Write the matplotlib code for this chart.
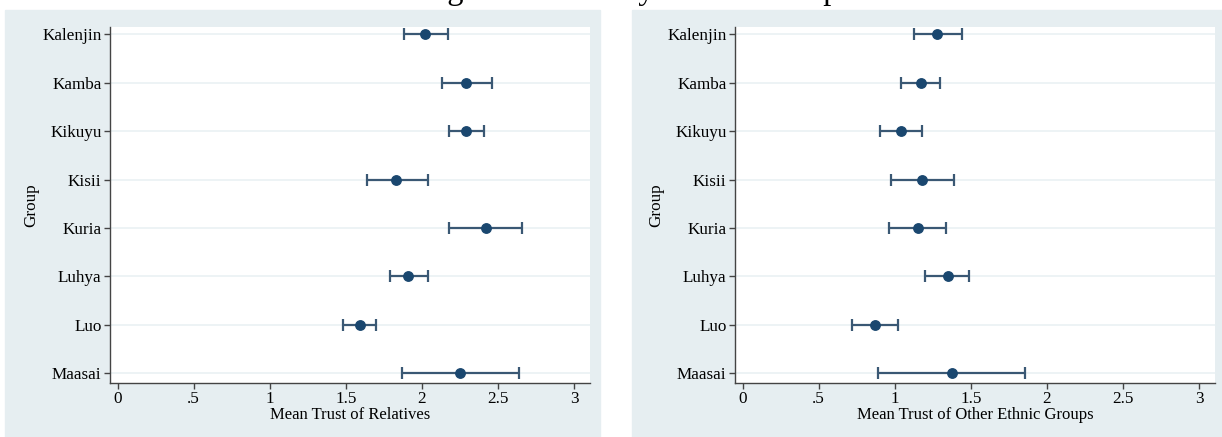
import numpy as np
import matplotlib.pyplot as plt
from matplotlib.patches import Rectangle

groups = ['Kalenjin', 'Kamba', 'Kikuyu', 'Kisii', 'Kuria', 'Luhya', 'Luo', 'Maasai']

# mean trust of relatives, with lower / upper bounds of the CI
rel_mean = [2.02, 2.29, 2.29, 1.83, 2.42, 1.91, 1.59, 2.25]
rel_lo = [1.88, 2.13, 2.18, 1.64, 2.18, 1.79, 1.48, 1.87]
rel_hi = [2.17, 2.46, 2.41, 2.04, 2.66, 2.04, 1.70, 2.64]

# mean trust of other ethnic groups
oth_mean = [1.28, 1.17, 1.04, 1.18, 1.15, 1.35, 0.87, 1.375]
oth_lo = [1.125, 1.04, 0.90, 0.975, 0.96, 1.20, 0.72, 0.89]
oth_hi = [1.44, 1.30, 1.18, 1.39, 1.34, 1.49, 1.02, 1.855]

xticks = [0, 0.5, 1, 1.5, 2, 2.5, 3]
xticklabels = ['0', '.5', '1', '1.5', '2', '2.5', '3']

plt.rcParams['font.family'] = ['Liberation Serif', 'DejaVu Serif']

W, H = 1222, 437
fig = plt.figure(figsize=(W / 100, H / 100), dpi=100)

bg = '#e6eef1'
navy = '#1a476f'
barcol = '#3a5874'

# grey-blue panels behind each graph
fig.patches.append(Rectangle((5 / W, 0), 595 / W, 427 / H, transform=fig.transFigure,
                             color=bg, zorder=-5))
fig.patches.append(Rectangle((632 / W, 0), 600 / W, 427 / H, transform=fig.transFigure,
                             color=bg, zorder=-5))

# title mostly cut off by the top of the image
fig.text(420 / W, 1 + 1.5 / H, 'Figure 2: Trust by Ethnic Group', fontsize=23.5,
         ha='left', va='baseline')


def panel(left_px, mean, lo, hi, xlabel):
    ax = fig.add_axes([left_px / W, 54 / H, 480 / W, 356 / H])
    ax.set_zorder(2)
    ax.set_facecolor('white')
    y = np.arange(len(groups))
    for yy in y:
        ax.axhline(yy, color='#eaf1f4', lw=1.2, zorder=1)
    mean = np.array(mean)
    err = [mean - np.array(lo), np.array(hi) - mean]
    ax.errorbar(mean, y, xerr=err, fmt='none', ecolor=barcol, elinewidth=1.6,
                capsize=4.5, capthick=1.6, zorder=2)
    ax.plot(mean, y, 'o', color=navy, markersize=6.8, zorder=3)
    ax.set_xlim(-0.05, 3.105)
    ax.set_ylim(7.2, -0.15)
    ax.set_yticks(y)
    ax.set_yticklabels(groups, fontsize=12.3)
    ax.set_xticks(xticks)
    ax.set_xticklabels(xticklabels, fontsize=12.3)
    ax.set_xlabel(xlabel, fontsize=12, labelpad=0)
    ax.set_ylabel('Group', fontsize=12.3, labelpad=2)
    for s in ['top', 'right']:
        ax.spines[s].set_visible(False)
    for s in ['left', 'bottom']:
        ax.spines[s].set_color('#444444')
        ax.spines[s].set_linewidth(1.0)
    ax.tick_params(length=4, width=1.0, color='#444444', pad=2)
    return ax


panel(110, rel_mean, rel_lo, rel_hi, 'Mean Trust of Relatives')
panel(735, oth_mean, oth_lo, oth_hi, 'Mean Trust of Other Ethnic Groups')

fig.savefig('out.png', dpi=100)
